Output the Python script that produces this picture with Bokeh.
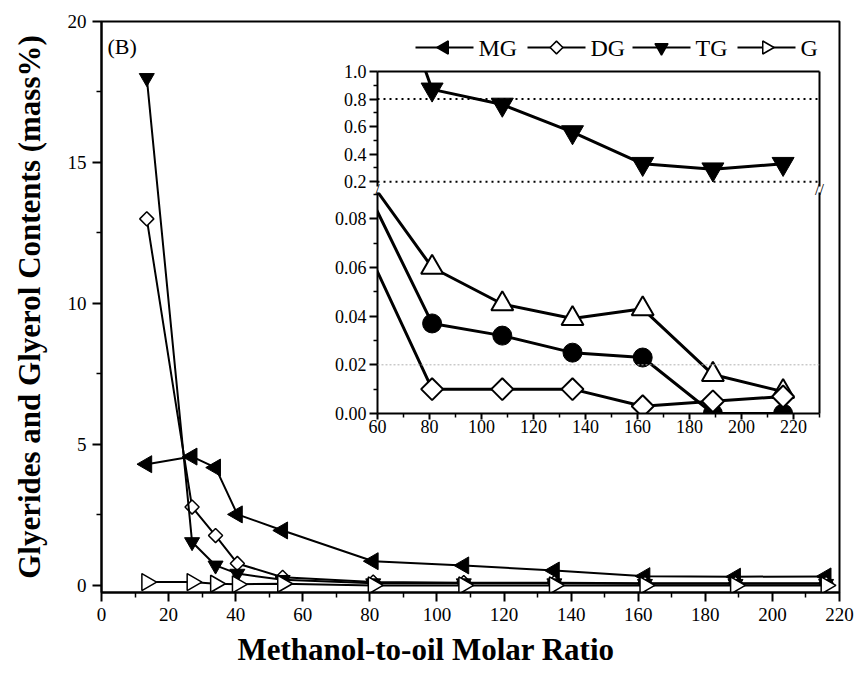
import numpy as np
from bokeh.plotting import figure
from bokeh.models import Range1d, FixedTicker, LinearAxis, Label, Span, PrintfTickFormatter, Title
from bokeh.core.properties import value
from bokeh.layouts import column
from bokeh.embed import file_html
from bokeh.resources import INLINE

FONT = "Liberation Serif"

# ---------------- main data ----------------
ratio = [13.5, 27, 34, 40.5, 54, 81, 108, 135, 162, 189, 216]
mg = [4.3, 4.57, 4.18, 2.52, 1.95, 0.86, 0.71, 0.53, 0.33, 0.31, 0.32]
dg = [13.0, 2.78, 1.77, 0.78, 0.29, 0.12, 0.1, 0.1, 0.08, 0.08, 0.08]
tg = [18.0, 1.54, 0.71, 0.42, 0.2, 0.08, 0.08, 0.08, 0.06, 0.06, 0.06]
gl = [0.12, 0.12, 0.06, 0.04, 0.06, 0.0, 0.0, 0.0, 0.0, 0.0, 0.0]

x_ticks = [0, 20, 40, 60, 80, 100, 120, 140, 160, 180, 200, 220]
x_minor = [10, 30, 50, 70, 90, 110, 130, 150, 170, 190, 210]
y_ticks = [0, 5, 10, 15, 20]
y_minor = [2.5, 7.5, 12.5, 17.5]
X_RANGE = (0, 220)
Y_RANGE = (-0.25, 20)

# ---------------- inset data ----------------
in_ratio = [54, 81, 108, 135, 162, 189, 216]
in_tg = [2.3, 0.87, 0.76, 0.56, 0.33, 0.29, 0.33]
in_tri = [0.100, 0.060, 0.045, 0.039, 0.043, 0.016, 0.009]
in_circ = [0.096, 0.037, 0.032, 0.025, 0.023, 0.0, 0.0]
in_dia = [0.072, 0.010, 0.010, 0.010, 0.003, 0.005, 0.007]

in_x_ticks = [60, 80, 100, 120, 140, 160, 180, 200, 220]
in_x_minor = [70, 90, 110, 130, 150, 170, 190, 210, 230]
up_ticks = [0.2, 0.4, 0.6, 0.8, 1.0]
up_minor = [0.3, 0.5, 0.7, 0.9]
low_ticks = [0.0, 0.02, 0.04, 0.06, 0.08]
low_minor = [0.01, 0.03, 0.05, 0.07, 0.09]
up_ref = [0.2, 0.8]
low_ref = [0.02]

# ---------------- legend ----------------
legend_labels = ["MG", "DG", "TG", "G"]
legend_markers = ["triangle", "square", "inverted_triangle", "triangle"]
legend_angles = [np.pi / 2, np.pi / 4, 0.0, -np.pi / 2]
legend_fills = ["black", "white", "black", "white"]
legend_sizes = [13, 9, 13, 13]
legend_x0 = [10, 122, 227, 332]   # layout (pixels inside the legend box)
GLYPH_W = 58
LABEL_GAP = 5

# shared layout constants (pixels)
W, H = 857, 677
MAIN_L, MAIN_R, MAIN_T, MAIN_B = 101, 18, 21, 85
FRAME_W = W - MAIN_L - MAIN_R
FRAME_H = H - MAIN_T - MAIN_B
INSET_LEFT = 377      # frame left edge of the inset
INSET_W = 442
BREAK_Y = 189         # vertical pixel of the axis break


def px_to_main(px, py):
    x = X_RANGE[0] + (px - MAIN_L) / FRAME_W * (X_RANGE[1] - X_RANGE[0])
    y = Y_RANGE[1] - (py - MAIN_T) / FRAME_H * (Y_RANGE[1] - Y_RANGE[0])
    return x, y


def style_axis(ax, size, tick_out=9, minor_out=5):
    ax.axis_line_width = 2
    ax.major_tick_line_width = 2
    ax.minor_tick_line_width = 1.5
    ax.major_tick_in = 0
    ax.major_tick_out = tick_out
    ax.minor_tick_in = 0
    ax.minor_tick_out = minor_out
    ax.major_label_text_font = FONT
    ax.major_label_text_font_size = size
    ax.major_label_text_color = "black"
    ax.axis_label_text_font = FONT
    ax.axis_label_text_font_style = "bold"
    ax.axis_label_text_font_size = "31px"
    ax.axis_label_text_color = "black"


# ---------------- main figure ----------------
p = figure(width=W, height=H, x_range=Range1d(*X_RANGE), y_range=Range1d(*Y_RANGE),
           toolbar_location=None, output_backend="svg",
           min_border_left=MAIN_L, min_border_right=MAIN_R,
           min_border_top=MAIN_T, min_border_bottom=MAIN_B)
p.xgrid.visible = False
p.ygrid.visible = False
p.outline_line_color = "black"
p.outline_line_width = 2

p.xaxis.ticker = FixedTicker(ticks=x_ticks, minor_ticks=x_minor)
p.yaxis.ticker = FixedTicker(ticks=y_ticks, minor_ticks=y_minor)
for ax in (p.xaxis[0], p.yaxis[0]):
    style_axis(ax, "19px")
    ax.major_label_standoff = 6
p.yaxis.axis_label = "Glyerides and Glyerol Contents (mass%)"
p.yaxis.axis_label_standoff = 18
p.add_layout(Title(text="Methanol-to-oil Molar Ratio", align="left", offset=136,
                   text_font=FONT, text_font_size="31px", text_font_style="bold",
                   text_color="black", standoff=12), "below")

LW = 2
p.line(ratio, mg, line_width=LW, color="black")
p.scatter(ratio, mg, marker="triangle", angle=np.pi / 2, size=17, fill_color="black",
          line_color="black")
p.line(ratio, dg, line_width=LW, color="black")
p.scatter(ratio, dg, marker="square", angle=np.pi / 4, size=10, fill_color="white",
          line_color="black", line_width=1.5)
p.line(ratio, tg, line_width=LW, color="black")
p.scatter(ratio, tg, marker="inverted_triangle", size=15, fill_color="black",
          line_color="black")
p.line(ratio, gl, line_width=LW, color="black")
p.scatter(ratio, gl, marker="triangle", angle=-np.pi / 2, size=17, fill_color="white",
          line_color="black", line_width=1.5)

p.add_layout(Label(x=1.8, y=19.1, text="(B)", text_font=FONT, text_font_size="22px",
                   text_baseline="middle", text_color="black"))

# axis-break marks of the inset (drawn in the main frame, beneath the transparent overlays)
for bx, btxt in ((INSET_LEFT, "/"), (INSET_LEFT + INSET_W, "//")):
    mx, my = px_to_main(bx, BREAK_Y)
    p.add_layout(Label(x=mx, y=my, text=btxt, text_font=FONT, text_font_size="16px",
                       text_align="center", text_baseline="middle", text_color="black"))


def spine(fig, where):
    ax = LinearAxis(ticker=FixedTicker(ticks=[]), axis_line_width=2,
                    major_tick_line_color=None, minor_tick_line_color=None,
                    major_label_text_font_size="0px", major_label_standoff=0,
                    major_tick_out=0, minor_tick_out=0)
    fig.add_layout(ax, where)


def overlay(fig, left, top):
    fig.xgrid.visible = False
    fig.ygrid.visible = False
    fig.outline_line_color = None
    fig.border_fill_alpha = 0
    fig.background_fill_alpha = 0
    fig.styles = {"position": "absolute", "left": f"{left}px", "top": f"{top}px"}


# ---------------- legend box (separate overlay so markers can be rotated) ----------------
LEG_W, LEG_H = 430, 36
leg = figure(width=MAIN_L + LEG_W + MAIN_R, height=LEG_H, x_range=Range1d(0, LEG_W),
             y_range=Range1d(0, LEG_H), x_axis_location=None, y_axis_location=None,
             toolbar_location=None, output_backend="svg",
             min_border_left=MAIN_L, min_border_right=MAIN_R, min_border_top=0,
             min_border_bottom=0)
overlay(leg, 405 - MAIN_L, 30)
ymid = LEG_H - 17
for lab, mk, an, fc, sz, x0 in zip(legend_labels, legend_markers, legend_angles,
                                   legend_fills, legend_sizes, legend_x0):
    leg.line([x0, x0 + GLYPH_W], [ymid, ymid], line_width=2, color="black")
    leg.scatter([x0 + GLYPH_W / 2], [ymid], marker=mk, angle=an, size=sz, fill_color=fc,
                line_color="black", line_width=1.5)
    leg.text([x0 + GLYPH_W + LABEL_GAP], [ymid], text=[lab], text_font=value(FONT),
             text_font_size="24px", text_baseline="middle", text_color="black")

# ---------------- inset: upper segment ----------------
up = figure(width=MAIN_L + INSET_W + MAIN_R, height=10 + 115 + 14,
            x_range=Range1d(60, 230), y_range=Range1d(0.165, 1.0),
            x_axis_location=None, toolbar_location=None, output_backend="svg",
            min_border_left=MAIN_L, min_border_right=MAIN_R, min_border_top=10,
            min_border_bottom=14)
overlay(up, INSET_LEFT - MAIN_L, 61)
up.yaxis.ticker = FixedTicker(ticks=up_ticks, minor_ticks=up_minor)
up.yaxis.formatter = PrintfTickFormatter(format="%.1f")
style_axis(up.yaxis[0], "18px", tick_out=8, minor_out=4)
up.yaxis.major_label_standoff = 3
spine(up, "above")
spine(up, "right")
for v in up_ref:
    up.add_layout(Span(location=v, dimension="width", line_color="black",
                       line_dash="2 4", line_width=2))
up.line(in_ratio, in_tg, line_width=3, color="black")
up.scatter(in_ratio, in_tg, marker="inverted_triangle", size=22, fill_color="black",
           line_color="black")

# ---------------- inset: lower segment ----------------
low = figure(width=MAIN_L + INSET_W + MAIN_R, height=14 + 221 + 45,
             x_range=Range1d(60, 230), y_range=Range1d(0, 0.0908),
             toolbar_location=None, output_backend="svg",
             min_border_left=MAIN_L, min_border_right=MAIN_R, min_border_top=14,
             min_border_bottom=45)
overlay(low, INSET_LEFT - MAIN_L, 178)
low.xaxis.ticker = FixedTicker(ticks=in_x_ticks, minor_ticks=in_x_minor)
low.yaxis.ticker = FixedTicker(ticks=low_ticks, minor_ticks=low_minor)
low.yaxis.formatter = PrintfTickFormatter(format="%.2f")
style_axis(low.xaxis[0], "18px", tick_out=6, minor_out=4)
style_axis(low.yaxis[0], "18px", tick_out=8, minor_out=4)
low.xaxis.major_label_standoff = 0
low.yaxis.major_label_standoff = 3
spine(low, "right")
for v in low_ref:
    low.add_layout(Span(location=v, dimension="width", line_color="#b0b0b0",
                        line_dash="2 2", line_width=1))

low.line(in_ratio, in_tri, line_width=3, color="black")
low.line(in_ratio, in_circ, line_width=3, color="black")
low.line(in_ratio, in_dia, line_width=3, color="black")
low.scatter(in_ratio, in_tri, marker="triangle", size=22, fill_color="white",
            line_color="black", line_width=2)
low.scatter(in_ratio, in_circ, marker="circle", size=19, fill_color="black",
            line_color="black")
low.scatter(in_ratio, in_dia, marker="square", angle=np.pi / 4, size=15.5, fill_color="white",
            line_color="black", line_width=2)

layout = column(p, leg, up, low)
open("out.html", "w").write(file_html(layout, INLINE))
